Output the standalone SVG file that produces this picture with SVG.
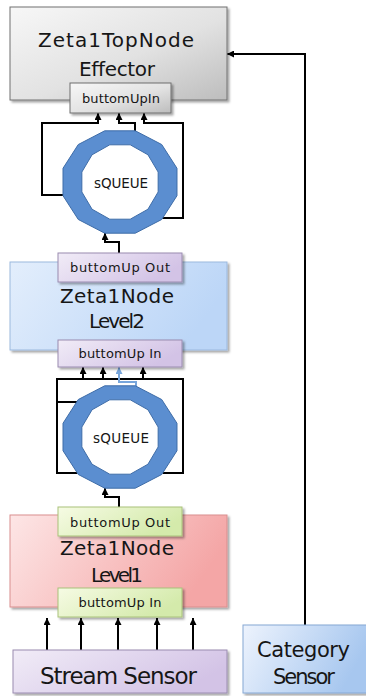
<svg xmlns="http://www.w3.org/2000/svg" width="366" height="696" viewBox="0 0 366 696">
  <defs>
    <style>
      text { font-family: "DejaVu Sans", "Liberation Sans", sans-serif; fill: #161616; text-anchor: middle; }
      .title { font-size: 20px; }
      .port { font-size: 13px; }
      .qlabel { font-size: 13.5px; }
      .wire { fill: none; stroke: #000; stroke-width: 2; }
      .wire-blue { fill: none; stroke: #78a6dc; stroke-width: 2; }
      .arrow { marker-end: url(#ah); }
      .ring { fill: #5b8ed0; stroke: #3f6da8; stroke-width: 1; fill-rule: evenodd; }
    </style>
    <marker id="ah" viewBox="0 0 10 10" refX="10" refY="5" markerWidth="7" markerHeight="7" markerUnits="userSpaceOnUse" orient="auto">
      <path d="M0,0 L10,5 L0,10 z" fill="#000"/>
    </marker>
    <marker id="ah-blue" viewBox="0 0 10 10" refX="10" refY="5" markerWidth="7" markerHeight="7" markerUnits="userSpaceOnUse" orient="auto">
      <path d="M0,0 L10,5 L0,10 z" fill="#78a6dc"/>
    </marker>
    <filter id="shadow" x="-10%" y="-10%" width="125%" height="130%">
      <feDropShadow dx="2" dy="2" stdDeviation="1.2" flood-color="#000" flood-opacity="0.35"/>
    </filter>
    <linearGradient id="g-gray" x1="0" y1="0" x2="1" y2="1">
      <stop offset="0" stop-color="#f7f7f7"/>
      <stop offset="0.55" stop-color="#e2e2e2"/>
      <stop offset="1" stop-color="#bdbdbd"/>
    </linearGradient>
    <linearGradient id="g-blue" x1="0" y1="0" x2="1" y2="0.3">
      <stop offset="0" stop-color="#e3eefc"/>
      <stop offset="1" stop-color="#bcd6f7"/>
    </linearGradient>
    <linearGradient id="g-pink" x1="0" y1="0" x2="1" y2="0.3">
      <stop offset="0" stop-color="#fde6e6"/>
      <stop offset="1" stop-color="#f4a6a6"/>
    </linearGradient>
    <linearGradient id="g-green" x1="0" y1="0" x2="1" y2="0.4">
      <stop offset="0" stop-color="#f6fbe4"/>
      <stop offset="1" stop-color="#d4eaab"/>
    </linearGradient>
    <linearGradient id="g-lav" x1="0" y1="0" x2="1" y2="0.4">
      <stop offset="0" stop-color="#f1ecf7"/>
      <stop offset="1" stop-color="#d3c3e6"/>
    </linearGradient>
    <linearGradient id="g-sky" x1="0" y1="0" x2="1" y2="0.3">
      <stop offset="0" stop-color="#edf3fd"/>
      <stop offset="1" stop-color="#a7c7ef"/>
    </linearGradient>
    <!-- twelve-sided queue ring, centred on the origin -->
    <path id="ring" class="ring" d="M56.99,13.72 L41.72,37.48 L15.27,51.19 L-15.27,51.19 L-41.72,37.48 L-56.99,13.72 L-56.99,-13.72 L-41.72,-37.48 L-15.27,-51.19 L15.27,-51.19 L41.72,-37.48 L56.99,-13.72 Z M38.15,9.96 L27.93,27.22 L10.22,37.19 L-10.22,37.19 L-27.93,27.22 L-38.15,9.96 L-38.15,-9.96 L-27.93,-27.22 L-10.22,-37.19 L10.22,-37.19 L27.93,-27.22 L38.15,-9.96 Z"/>
  </defs>

  <rect width="366" height="696" fill="#ffffff"/>

  <!-- connectors -->
  <g id="connectors">
    <!-- category sensor feeds the top node -->
    <path class="wire arrow" d="M305,625 V54 H227"/>
    <!-- queue 1 to top node input -->
    <path class="wire arrow" d="M63,195 H42 V123 H98 V113"/>
    <path class="wire arrow" d="M135,132 V123 H119 V113"/>
    <path class="wire arrow" d="M162,218 H183 V123 H144 V113"/>
    <!-- level 2 output to queue 1 -->
    <path class="wire arrow" d="M119,253 V242 H105 V233"/>
    <!-- queue 2 to level 2 input -->
    <path class="wire" d="M57,379 H183"/>
    <path class="wire arrow" d="M77,402 H57 V379 H83 V367"/>
    <path class="wire arrow" d="M77,473 H57 V379 H103 V367"/>
    <path class="wire arrow" d="M163,473 H183 V379 H143 V367"/>
    <path class="wire-blue" d="M136,387 V382 H119 V367" marker-end="url(#ah-blue)"/>
    <!-- level 1 output to queue 2 -->
    <path class="wire arrow" d="M119,507 V497 H105 V488"/>
    <!-- stream sensor to level 1 input -->
    <path class="wire arrow" d="M47,650 V618"/>
    <path class="wire arrow" d="M81,650 V618"/>
    <path class="wire arrow" d="M118,650 V618"/>
    <path class="wire arrow" d="M157,650 V618"/>
    <path class="wire arrow" d="M193,650 V618"/>
  </g>

  <!-- top node -->
  <g id="top-node">
    <rect x="10" y="7" width="217" height="93" fill="url(#g-gray)" stroke="#707070" stroke-width="1" filter="url(#shadow)"/>
    <text class="title" x="116" y="47" textLength="156">Zeta1TopNode</text>
    <text class="title" x="117" y="76" textLength="76">Effector</text>
    <g id="top-node-in">
      <rect x="70" y="83" width="101" height="30" fill="url(#g-gray)" stroke="#6e6e6e" stroke-width="1" filter="url(#shadow)"/>
      <text class="port" x="121" y="103" textLength="78">buttomUpIn</text>
    </g>
  </g>

  <!-- queue between level 2 and the top node -->
  <g id="queue-1">
    <use href="#ring" transform="translate(120,182)"/>
    <text class="qlabel" x="121" y="188" textLength="54">sQUEUE</text>
  </g>

  <!-- level 2 node -->
  <g id="level2-node">
    <rect x="10" y="262" width="217" height="88" fill="url(#g-blue)" stroke="#9bb9de" stroke-width="1" filter="url(#shadow)"/>
    <text class="title" x="117" y="303" textLength="114">Zeta1Node</text>
    <text class="title" x="117" y="328" font-size="18" textLength="56">Level2</text>
    <g id="level2-out">
      <rect x="58" y="253" width="124" height="29" fill="url(#g-lav)" stroke="#9a8cb0" stroke-width="1" filter="url(#shadow)"/>
      <text class="port" x="120" y="272" font-size="13.5" textLength="100">buttomUp Out</text>
    </g>
    <g id="level2-in">
      <rect x="58" y="340" width="124" height="27" fill="url(#g-lav)" stroke="#9a8cb0" stroke-width="1" filter="url(#shadow)"/>
      <text class="port" x="120" y="358" font-size="13.5" textLength="83">buttomUp In</text>
    </g>
  </g>

  <!-- queue between level 1 and level 2 -->
  <g id="queue-2">
    <use href="#ring" transform="translate(120,437)"/>
    <text class="qlabel" x="121" y="443" textLength="56">sQUEUE</text>
  </g>

  <!-- level 1 node -->
  <g id="level1-node">
    <rect x="10" y="515" width="217" height="92" fill="url(#g-pink)" stroke="#d98f8f" stroke-width="1" filter="url(#shadow)"/>
    <text class="title" x="117" y="555" textLength="114">Zeta1Node</text>
    <text class="title" x="117" y="582" font-size="18" textLength="52">Level1</text>
    <g id="level1-out">
      <rect x="58" y="507" width="124" height="29" fill="url(#g-green)" stroke="#a9c27a" stroke-width="1" filter="url(#shadow)"/>
      <text class="port" x="120" y="527" font-size="13.5" textLength="100">buttomUp Out</text>
    </g>
    <g id="level1-in">
      <rect x="58" y="588" width="124" height="29" fill="url(#g-green)" stroke="#a9c27a" stroke-width="1" filter="url(#shadow)"/>
      <text class="port" x="120" y="607" font-size="13.5" textLength="83">buttomUp In</text>
    </g>
  </g>

  <!-- stream sensor -->
  <g id="stream-sensor">
    <rect x="13" y="650" width="214" height="43" fill="url(#g-lav)" stroke="#9a8cb0" stroke-width="1" filter="url(#shadow)"/>
    <text x="118.5" y="684" font-size="23" textLength="157">Stream Sensor</text>
  </g>

  <!-- category sensor -->
  <g id="category-sensor">
    <rect x="243" y="625" width="124" height="68" fill="url(#g-sky)" stroke="#86a8d4" stroke-width="1" filter="url(#shadow)"/>
    <text x="303.5" y="657" font-size="21" textLength="93">Category</text>
    <text x="304" y="684" font-size="21" textLength="62">Sensor</text>
  </g>
</svg>
